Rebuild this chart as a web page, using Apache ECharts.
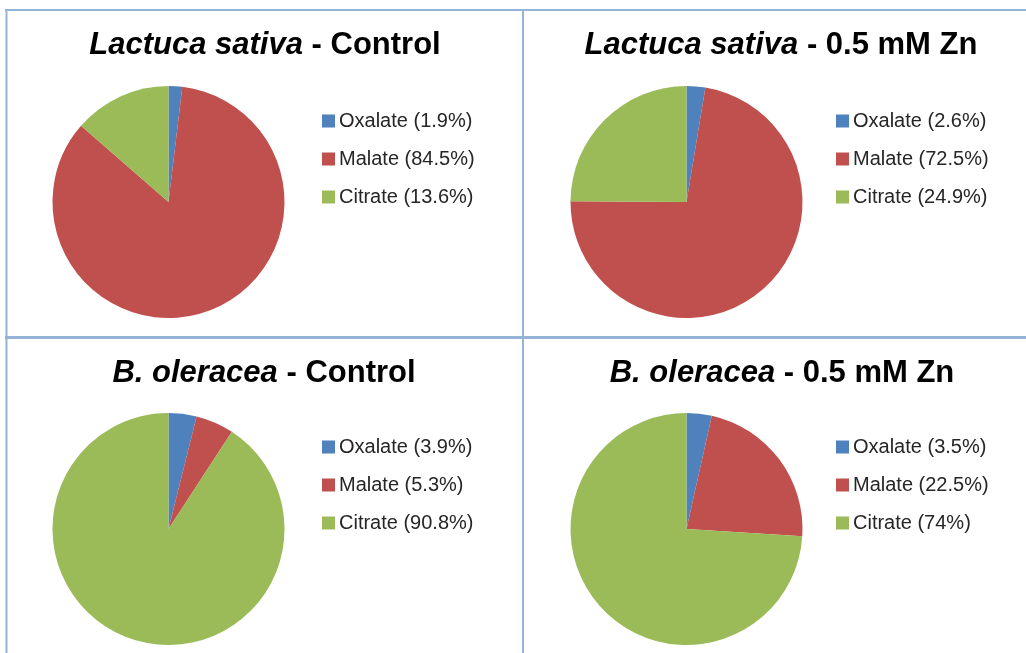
<!DOCTYPE html>
<html>
<head>
<meta charset="utf-8">
<script src="https://cdn.jsdelivr.net/npm/echarts@6/dist/echarts.min.js"></script>
<style>html,body{margin:0;padding:0;background:#fff}#c{width:1026px;height:653px}</style>
</head>
<body>
<div id="c"></div>
<script>
const categories = ['Oxalate', 'Malate', 'Citrate'];
const speciesNames = ['Lactuca sativa', 'Lactuca sativa', 'B. oleracea', 'B. oleracea'];
const treatments = [' - Control', ' - 0.5 mM Zn', ' - Control', ' - 0.5 mM Zn'];
const lactucaControl = [1.9, 84.5, 13.6];
const lactucaZn = [2.6, 72.5, 24.9];
const oleraceaControl = [3.9, 5.3, 90.8];
const oleraceaZn = [3.5, 22.5, 74];
const colors = ['#4F81BD', '#C0504D', '#9BBB59'];

const panels = [lactucaControl, lactucaZn, oleraceaControl, oleraceaZn];
const pieCenters = [[168.5, 202], [686.5, 202], [168.5, 529], [686.5, 529]];
const titlePos = [[265, 45], [781, 45], [264, 373], [782, 373]];
const legendPos = [[317, 106], [831, 106], [317, 432], [831, 432]];
const FONT = 'Arial, "Liberation Sans", sans-serif';

const chart = echarts.init(document.getElementById('c'), null, {renderer: 'canvas'});

const series = panels.map((vals, i) => ({
  type: 'pie',
  name: 'p' + i,
  center: pieCenters[i],
  radius: 116,
  startAngle: 90,
  clockwise: true,
  label: {show: false},
  labelLine: {show: false},
  emphasis: {disabled: true},
  itemStyle: {borderWidth: 0},
  data: categories.map((c, k) => ({name: c, value: vals[k], itemStyle: {color: colors[k]}}))
}));

const legends = panels.map((vals, i) => ({
  orient: 'vertical',
  left: legendPos[i][0],
  top: legendPos[i][1],
  itemWidth: 13,
  itemHeight: 13,
  itemGap: 18,
  icon: 'rect',
  selectedMode: false,
  data: categories,
  formatter: name => name + ' (' + vals[categories.indexOf(name)] + '%)',
  textStyle: {fontSize: 20, fontFamily: FONT, color: '#262626', lineHeight: 20, padding: [0, 0, 0, -1]}
}));

const lineStyle = {stroke: '#95B3D7'};
const graphics = [
  {type: 'line', shape: {x1: 5, y1: 10, x2: 1026, y2: 10}, style: Object.assign({lineWidth: 2}, lineStyle), silent: true},
  {type: 'line', shape: {x1: 6.5, y1: 9, x2: 6.5, y2: 653}, style: Object.assign({lineWidth: 2}, lineStyle), silent: true},
  {type: 'line', shape: {x1: 523, y1: 9, x2: 523, y2: 653}, style: Object.assign({lineWidth: 2}, lineStyle), silent: true},
  {type: 'line', shape: {x1: 5, y1: 337.5, x2: 1026, y2: 337.5}, style: Object.assign({lineWidth: 3}, lineStyle), silent: true}
];
titlePos.forEach((p, i) => {
  graphics.push({
    type: 'text', x: p[0], y: p[1], silent: true,
    style: {
      text: '{i|' + speciesNames[i] + '}{n|' + treatments[i] + '}',
      align: 'center', verticalAlign: 'middle',
      rich: {
        i: {fontSize: 31, fontWeight: 'bold', fontStyle: 'italic', fontFamily: FONT, fill: '#000'},
        n: {fontSize: 31, fontWeight: 'bold', fontFamily: FONT, fill: '#000'}
      }
    }
  });
});

chart.setOption({
  animation: false,
  backgroundColor: '#fff',
  legend: legends,
  series: series,
  graphic: graphics
});
</script>
</body>
</html>
